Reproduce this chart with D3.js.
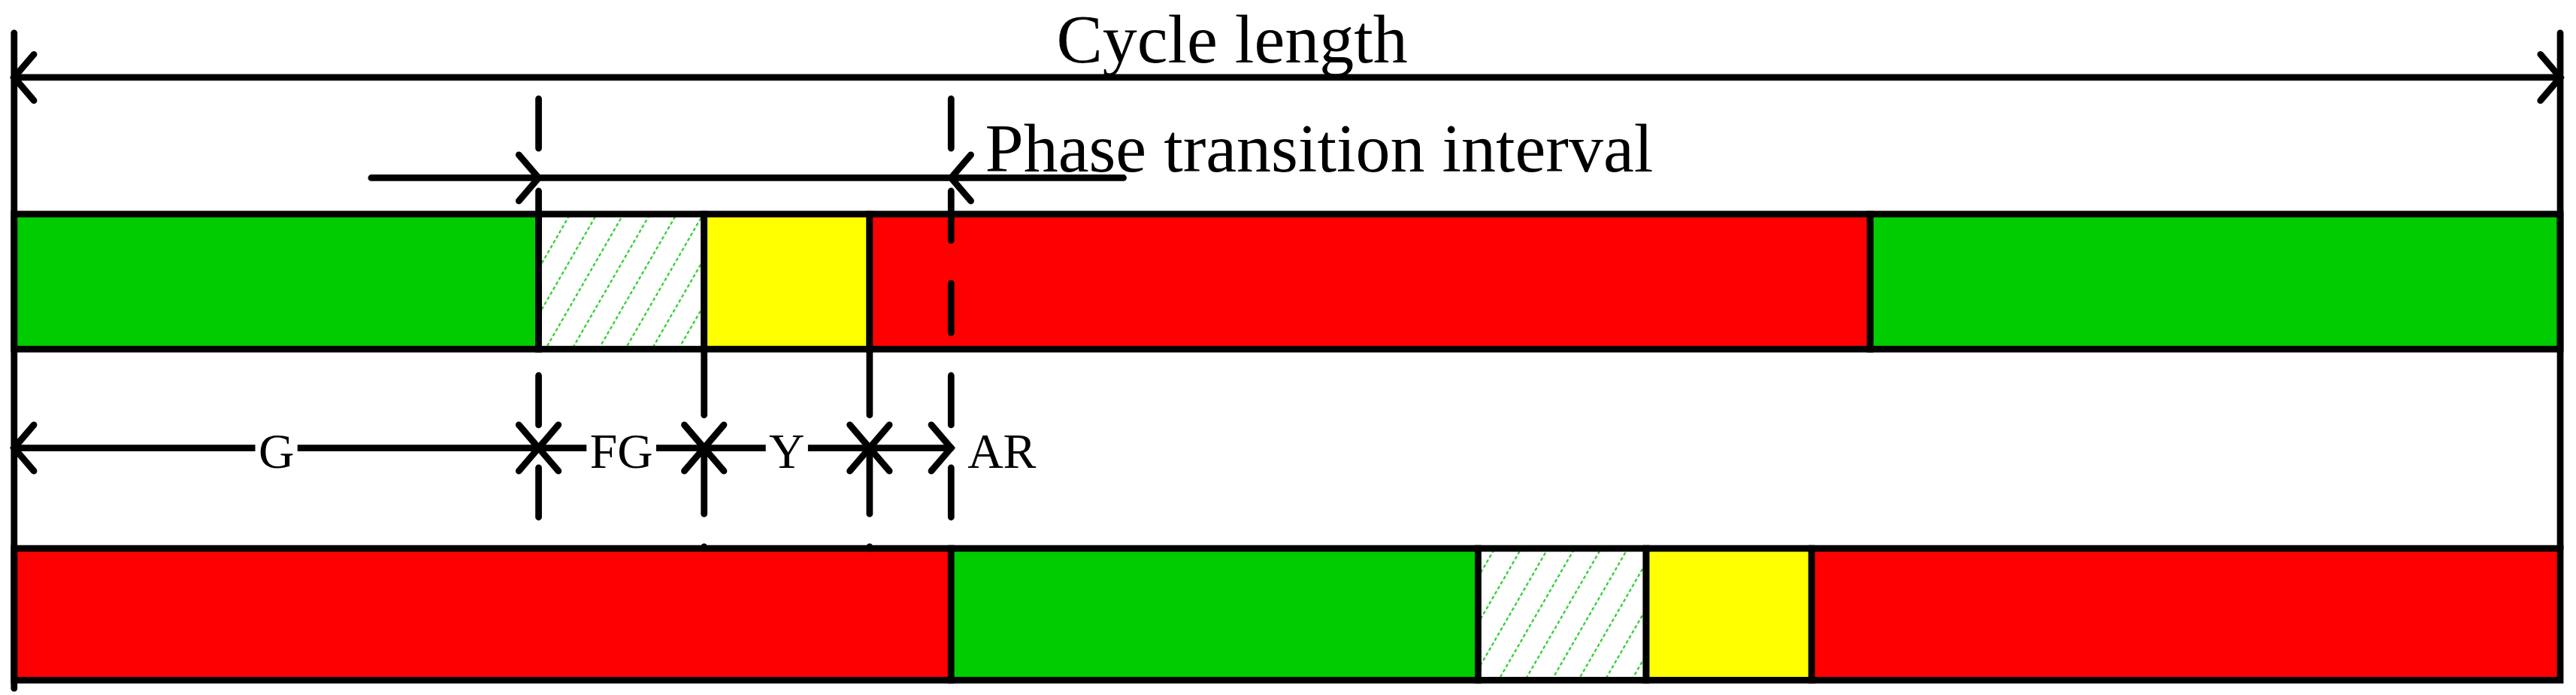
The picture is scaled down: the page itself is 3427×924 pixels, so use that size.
<!DOCTYPE html>
<html><head><meta charset="utf-8">
<script src="https://cdn.jsdelivr.net/npm/d3@7"></script>
<style>body{margin:0;background:#fff}svg{display:block}</style>
</head><body>
<svg id="svg" width="3427" height="924" viewBox="0 0 1564 422"></svg>
<script>
// durations in % of cycle
const phaseKinds=["G","FG","Y","R","G2"];
const topPhases=[{k:"G",d:20.6},{k:"FG",d:6.5},{k:"Y",d:6.5},{k:"R",d:39.3},{k:"G",d:27.1}];
const botPhases=[{k:"R",d:36.8},{k:"G",d:20.7},{k:"FG",d:6.6},{k:"Y",d:6.5},{k:"R",d:29.4}];
const intervalLabels=["G","FG","Y","AR"];
const intervalDur=[20.6,6.5,6.5,3.2];
const cycleLabel="Cycle length";
const transLabel="Phase transition interval";

const svg=d3.select("#svg");
const x=d3.scaleLinear().domain([0,100]).range([8,1555]);
const fills={G:"#00cc00",Y:"#ffff00",R:"#ff0000",FG:"url(#hatch)"};
const lw=4;

let defs=svg.append("defs");
let pat=defs.append("pattern").attr("id","hatch").attr("patternUnits","userSpaceOnUse").attr("width",14).attr("height",14).attr("patternTransform","rotate(30)");
pat.append("rect").attr("width",14).attr("height",14).attr("fill","#fff");
pat.append("line").attr("x1",0).attr("y1",0).attr("x2",0).attr("y2",14).attr("stroke","#22cc22").attr("stroke-width",2).attr("stroke-dasharray","2,1.5");

const cum=arr=>{let s=0;return arr.map(p=>{let o={k:p.k,a:s,b:s+p.d};s+=p.d;return o;});};

function bar(phases,y0,y1){
    let segs=cum(phases);
    svg.selectAll(null).data(segs).enter().append("rect")
        .attr("x",d=>x(d.a)).attr("y",y0).attr("width",d=>x(d.b)-x(d.a)).attr("height",y1-y0)
        .attr("fill",d=>fills[d.k]).attr("stroke","#000").attr("stroke-width",lw);
}
bar(topPhases,130,212);
bar(botPhases,333,413);

const line=(x1,y1,x2,y2,dash)=>svg.append("line").attr("x1",x1).attr("y1",y1).attr("x2",x2).attr("y2",y2)
    .attr("stroke","#000").attr("stroke-width",lw).attr("stroke-linecap","round").attr("stroke-dasharray",dash||null);
// chevron with tip at (tx,y), dir +1 points right
const chev=(tx,y,dir)=>svg.append("path").attr("d",`M${tx-dir*12},${y-14}L${tx},${y}L${tx-dir*12},${y+14}`)
    .attr("fill","none").attr("stroke","#000").attr("stroke-width",lw).attr("stroke-linecap","round");

// frame verticals
line(x(0),20,x(0),418);
line(x(100),20,x(100),333);

// cycle arrow
line(x(0),47,x(100),47); chev(x(0),47,-1); chev(x(100),47,1);
svg.append("text").attr("x",748).attr("y",38).attr("text-anchor","middle").style("font-family","Liberation Serif").style("font-size","42px").text(cycleLabel);

// interval boundaries
let bnd=[0];intervalDur.forEach(d=>bnd.push(bnd[bnd.length-1]+d));
const t1=bnd[1],t4=bnd[4];
line(x(t1),60,x(t1),333,"30,26");
line(x(t4),60,x(t4),333,"30,26");
line(x(bnd[2]),212,x(bnd[2]),333,"40,20");
line(x(bnd[3]),212,x(bnd[3]),333,"40,20");

// phase transition arrow
line(225,108,682,108); chev(x(t1),108,1); chev(x(t4),108,-1);
svg.append("text").attr("x",598).attr("y",104).style("font-family","Liberation Serif").style("font-size","42px").text(transLabel);

// interval arrows
const yA=272;
intervalLabels.forEach((lab,i)=>{
    let a=x(bnd[i]),b=x(bnd[i+1]);
    line(a,yA,b,yA);
    chev(a,yA,-1); chev(b,yA,1);
    if(lab==="AR"){
        svg.append("text").attr("x",b+10).attr("y",yA+12).style("font-family","Liberation Serif").style("font-size","30px").text(lab);
    }else{
        let t=svg.append("text").attr("x",(a+b)/2).attr("y",yA+12).attr("text-anchor","middle").style("font-family","Liberation Serif").style("font-size","30px").text(lab);
        let bb=t.node().getBBox();
        svg.insert("rect","text:last-of-type").attr("x",bb.x-2).attr("y",yA-4).attr("width",bb.width+4).attr("height",8).attr("fill","#fff");
        t.raise();
    }
});
</script>
</body></html>
